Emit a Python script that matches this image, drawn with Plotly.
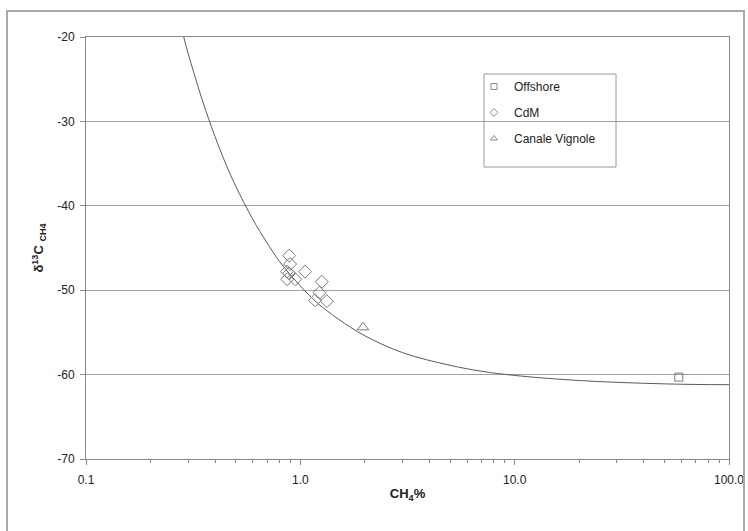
import plotly.graph_objects as go

# ---- data ----
offshore_x = [58.3]
offshore_y = [-60.3]

cdm_x = [0.887, 0.896, 0.865, 0.887, 0.868, 0.946, 1.052, 1.260, 1.228, 1.172, 1.329]
cdm_y = [-45.9, -46.9, -47.8, -48.0, -48.7, -48.7, -47.8, -49.0, -50.3, -51.2, -51.3]

vignole_x = [1.96]
vignole_y = [-54.4]

# mixing curve
curve_x = [0.2857, 0.30, 0.32, 0.35, 0.40, 0.45, 0.50, 0.60, 0.70, 0.80, 1.0, 1.2, 1.5,
           2.0, 3.0, 5.0, 7.0, 10.0, 20.0, 50.0, 100.0]
curve_y = [-20.0, -22.0, -24.4, -27.6, -31.8, -35.1, -37.7, -41.6, -44.4, -46.6, -49.5,
           -51.5, -53.4, -55.4, -57.4, -58.9, -59.6, -60.1, -60.7, -61.1, -61.2]

x_tickvals = [0.1, 1, 10, 100]
x_ticktext = ["0.1", "1.0", "10.0", "100.0"]
y_tickvals = [-70, -60, -50, -40, -30, -20]
y_ticktext = ["-70", "-60", "-50", "-40", "-30", "-20"]

series_names = ["Offshore", "CdM", "Canale Vignole"]

FONT = "Liberation Sans, Arial, sans-serif"
GREY = "#7a7a7a"
SYMBOLS = ["square-open", "diamond-open", "triangle-up-open"]
SIZES = [8, 10, 10]

fig = go.Figure()

fig.add_trace(go.Scatter(
    x=curve_x, y=curve_y, mode="lines", line=dict(color="#5a5a5a", width=1, shape="spline"),
    showlegend=False, hoverinfo="skip"))

for xs, ys, sym, sz in zip([offshore_x, cdm_x, vignole_x], [offshore_y, cdm_y, vignole_y],
                           SYMBOLS, SIZES):
    fig.add_trace(go.Scatter(
        x=xs, y=ys, mode="markers", showlegend=False,
        marker=dict(symbol=sym, size=sz, color=GREY, line=dict(width=1))))

# legend-only entries with small markers, as in the reference
for i, (name, sym) in enumerate(zip(series_names, SYMBOLS)):
    fig.add_trace(go.Scatter(
        x=[None], y=[None], mode="markers", name=name, legendgroup=f"g{i}",
        marker=dict(symbol=sym, size=6, color="#8a8a8a", line=dict(width=1))))

L, R, T, B = 86, 19, 37, 72
W, H = 748, 531
pw, ph = W - L - R, H - T - B

def px_x(p):
    return (p - L) / pw

def px_y(p):
    return (H - B - p) / ph

# outer frame
fig.add_shape(type="rect", xref="paper", yref="paper",
              x0=px_x(7), x1=px_x(744), y0=px_y(540), y1=px_y(11),
              line=dict(color="#a8a8a8", width=2), fillcolor="rgba(0,0,0,0)")
# legend box
fig.add_shape(type="rect", xref="paper", yref="paper",
              x0=px_x(484), x1=px_x(616), y0=px_y(167), y1=px_y(74),
              line=dict(color="#9a9a9a", width=1), fillcolor="rgba(0,0,0,0)")

fig.update_layout(
    width=W, height=H,
    margin=dict(l=L, r=R, t=T, b=B),
    paper_bgcolor="white", plot_bgcolor="white",
    font=dict(family=FONT, size=12, color="#222222"),
    showlegend=True,
    legend=dict(x=px_x(474), y=px_y(72), xanchor="left", yanchor="top",
                bgcolor="rgba(0,0,0,0)", borderwidth=0, tracegroupgap=7,
                font=dict(family=FONT, size=12, color="#222222")),
    xaxis=dict(
        type="log", range=[-1, 2],
        tickvals=x_tickvals, ticktext=x_ticktext,
        ticks="outside", ticklen=5, tickcolor="#888888", ticklabelstandoff=5,
        minor=dict(ticks="outside", ticklen=3, tickcolor="#888888", dtick="D1", showgrid=False),
        showgrid=False, zeroline=False,
        showline=True, linecolor="#888888", linewidth=1, mirror=True,
        title=dict(text="<b>CH<sub>4</sub>%</b>", standoff=2, font=dict(size=13, family=FONT)),
        automargin=False,
    ),
    yaxis=dict(
        range=[-70, -20], tickvals=y_tickvals, ticktext=y_ticktext,
        ticks="outside", ticklen=5, tickcolor="#888888", ticklabelstandoff=3,
        showgrid=True, gridcolor="#a0a0a0", gridwidth=1, zeroline=False,
        showline=True, linecolor="#888888", linewidth=1, mirror=True,
        title=dict(text="<b>δ<sup>13</sup>C <sub>CH4</sub></b>", standoff=10, font=dict(size=13, family=FONT)),
        automargin=False,
    ),
)

fig.write_html("out.html")
